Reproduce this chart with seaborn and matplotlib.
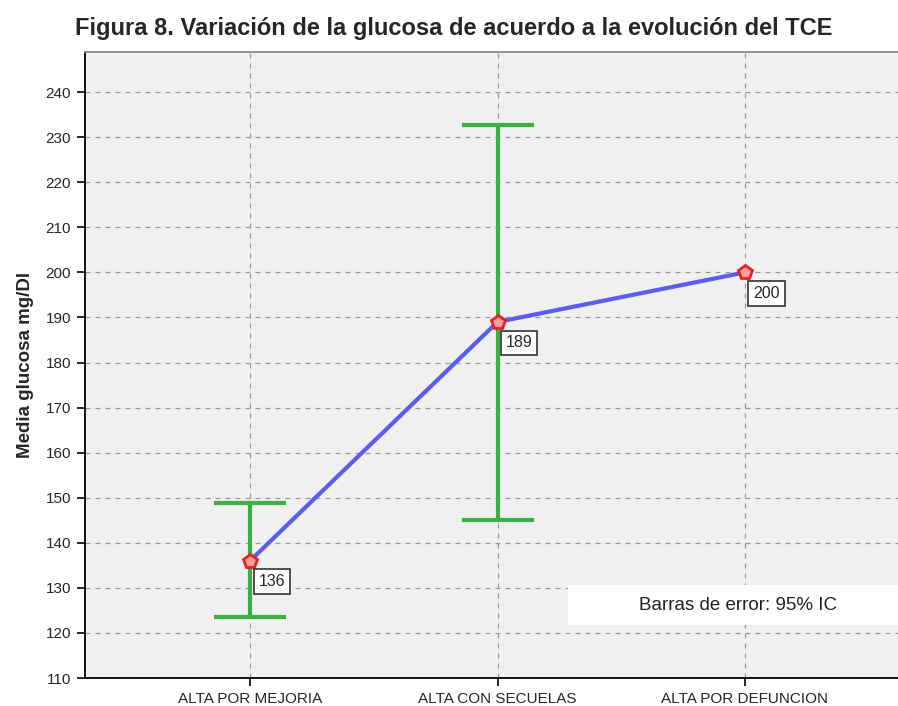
import matplotlib
matplotlib.use("Agg")
import matplotlib.pyplot as plt
import seaborn as sns
import pandas as pd
from matplotlib.patches import Rectangle

categories = ["ALTA POR MEJORIA", "ALTA CON SECUELAS", "ALTA POR DEFUNCION"]
means = [136, 189, 200]
ci_low = [123.5, 145.0, None]
ci_high = [148.8, 232.8, None]
labels = ["136", "189", "200"]
yticks = [110, 120, 130, 140, 150, 160, 170, 180, 190, 200, 210, 220, 230, 240]

sns.set_style("white")
plt.rcParams['font.family'] = ['Liberation Sans', 'DejaVu Sans']

fig = plt.figure(figsize=(8.98, 7.06), dpi=100)
ax = fig.add_axes([85/898, 1 - 678/706, (910-85)/898, (678-52)/706])
ax.set_facecolor("#f0f0f0")

df = pd.DataFrame({"pos": range(len(categories)), "mean": means})

# error bars
for i in range(len(categories)):
    if ci_low[i] is not None:
        ax.errorbar(i, means[i], yerr=[[means[i]-ci_low[i]], [ci_high[i]-means[i]]],
                    fmt='none', ecolor="#3cb043", elinewidth=3, capsize=26, capthick=3, zorder=3)

sns.lineplot(data=df, x="pos", y="mean", ax=ax, color="#5c5cf0", linewidth=3, zorder=4,
             marker="p", markersize=10, markerfacecolor="#f5a0a0", markeredgecolor="#e82020",
             markeredgewidth=2)

for i, lab in enumerate(labels):
    ax.annotate(lab, (i, means[i]), xytext=(6, -15), textcoords="offset points",
                ha="left", va="center", fontsize=11.5, zorder=5,
                bbox=dict(boxstyle="square,pad=0.3", fc="white", ec="#333333", lw=1.2))

ax.set_xlim(-0.667, 2.667)
ax.set_ylim(110, 248.9)
ax.set_xticks(range(len(categories)))
ax.set_xticklabels(categories, fontsize=11)
ax.set_yticks(yticks)
ax.set_yticklabels([str(t) for t in yticks], fontsize=11)
ax.tick_params(axis='both', which='both', direction='out', length=6, width=1.2, color="black",
               left=True, bottom=True, pad=4)
ax.grid(True, linestyle=(0, (4, 4)), color="#999999", linewidth=0.9)
ax.set_axisbelow(True)
for s in ["left", "bottom", "top"]:
    ax.spines[s].set_color("black")
    ax.spines[s].set_linewidth(1.3)
ax.spines["top"].set_color("#888888")
ax.spines["right"].set_visible(False)

ax.set_xlabel("")
ax.set_ylabel("Media glucosa mg/Dl", fontsize=13.5, fontweight="bold", labelpad=8)

fig.text(454/898, 1 - 28/706, "Figura 8. Variación de la glucosa de acuerdo a la evolución del TCE",
         ha="center", va="center", fontsize=17, fontweight="bold")

ax.add_patch(Rectangle((568/898, 1 - 625/706), (898-568)/898, 40/706,
                       transform=fig.transFigure, fc="white", ec="none", zorder=6,
                       clip_on=False))
ax.text(738/898, 1 - 606/706, "Barras de error: 95% IC", transform=fig.transFigure,
        ha="center", va="center", fontsize=13.5, color="#222222", zorder=7)

fig.savefig("out.png", dpi=100)
